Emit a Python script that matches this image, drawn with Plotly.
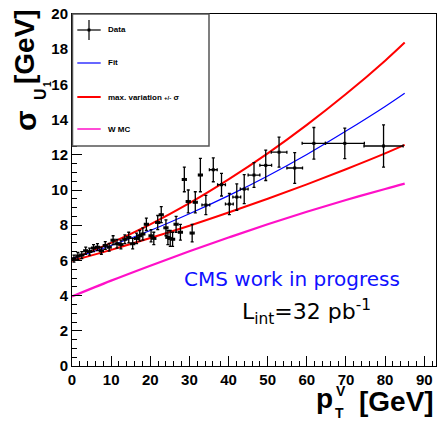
import plotly.graph_objects as go

# ---------------- data ----------------
data_x = [0.5, 1.5, 2.5, 3.5, 4.5, 5.5, 6.5, 7.5, 8.5, 9.5, 10.5, 11.5, 12.5, 13.5, 14.5,
          15.5, 16.5, 17.3, 18.1, 19.0, 20.2, 20.9, 21.9, 22.8, 24.0, 24.5, 25.1, 25.7,
          26.6, 27.7, 28.7, 29.7, 30.7, 31.5, 32.8, 34.2, 36.1, 38.2, 40.2, 42.1, 44.0,
          46.5, 49.5, 52.9, 56.9, 61.8, 69.7, 79.6]
data_y = [6.1, 6.25, 6.3, 6.55, 6.5, 6.7, 6.75, 6.55, 6.85, 6.75, 7.15, 6.95, 6.9, 7.2, 7.3,
          6.95, 7.25, 7.4, 7.5, 8.05, 7.4, 7.25, 8.15, 8.6, 7.85, 7.3, 7.25, 7.2,
          8.05, 7.6, 10.6, 9.35, 7.55, 9.3, 10.85, 9.15, 11.15, 10.3, 9.2, 9.6, 10.05,
          10.85, 11.4, 12.15, 11.25, 12.65, 12.65, 12.5]
data_yerr = [0.2, 0.2, 0.2, 0.2, 0.2, 0.2, 0.2, 0.2, 0.22, 0.22, 0.25, 0.25, 0.25, 0.25, 0.3,
             0.3, 0.3, 0.3, 0.35, 0.35, 0.35, 0.35, 0.4, 0.45, 0.45, 0.4, 0.45, 0.4,
             0.45, 0.45, 0.7, 0.65, 0.5, 0.6, 0.95, 0.55, 0.68, 0.64, 0.6, 0.75, 0.82,
             0.7, 0.86, 0.85, 0.87, 0.9, 0.87, 1.2]
data_xerr = [0.5] * 35 + [1.0] * 6 + [1.5, 1.5, 2.0, 2.0, 3.0, 5.0, 5.0]

curve_x = [0, 10, 20, 30, 40, 50, 60, 70, 80, 85]
fit_y = [6.1, 6.85, 7.7, 8.65, 9.68, 10.8, 12.02, 13.35, 14.75, 15.5]
var_up_y = [6.08, 7.0, 8.05, 9.25, 10.6, 12.08, 13.7, 15.45, 17.35, 18.38]
var_dn_y = [5.98, 6.6, 7.27, 7.97, 8.72, 9.5, 10.32, 11.18, 12.08, 12.56]
wmc_y = [3.95, 4.85, 5.7, 6.52, 7.3, 8.05, 8.76, 9.43, 10.06, 10.36]

x_ticks = [0, 10, 20, 30, 40, 50, 60, 70, 80, 90]
y_ticks = [0, 2, 4, 6, 8, 10, 12, 14, 16, 18, 20]

# ---------------- layout helpers ----------------
W, H = 437, 423
L, R, T, B = 72, 436, 14, 366


def px(x):
    return (x - L) / (R - L)


def py(y):
    return (B - y) / (B - T)


RED = "#ff0000"
BLUE = "#0000ff"
MAG = "#ff10c8"
FONT = "Liberation Sans"

fig = go.Figure()

fig.add_trace(go.Scatter(x=curve_x, y=wmc_y, mode="lines", line=dict(color=MAG, width=2.2, shape="spline"),
                         showlegend=False, hoverinfo="skip"))
fig.add_trace(go.Scatter(x=curve_x, y=var_dn_y, mode="lines", line=dict(color=RED, width=2, shape="spline"),
                         showlegend=False, hoverinfo="skip"))
fig.add_trace(go.Scatter(x=curve_x, y=var_up_y, mode="lines", line=dict(color=RED, width=2, shape="spline"),
                         showlegend=False, hoverinfo="skip"))
fig.add_trace(go.Scatter(x=curve_x, y=fit_y, mode="lines", line=dict(color=BLUE, width=1.2, shape="spline"),
                         showlegend=False, hoverinfo="skip"))
fig.add_trace(go.Scatter(
    x=data_x, y=data_y, mode="markers",
    marker=dict(symbol="square", size=3, color="black"),
    error_y=dict(type="data", array=data_yerr, color="black", thickness=1.3, width=1.5),
    error_x=dict(type="data", array=data_xerr, color="black", thickness=1.3, width=1.5),
    showlegend=False))

shapes = []
annotations = []

# legend box
shapes.append(dict(type="rect", xref="paper", yref="paper", x0=px(72.5), x1=px(209), y0=py(146), y1=py(14),
                   line=dict(color="#555555", width=1.5), fillcolor="white", layer="above"))
# legend samples
lx0, lx1 = 77.3, 100.7
shapes.append(dict(type="line", xref="paper", yref="paper", x0=px(lx0), x1=px(lx1), y0=py(30), y1=py(30),
                   line=dict(color="black", width=1.2)))
shapes.append(dict(type="line", xref="paper", yref="paper", x0=px(89), x1=px(89), y0=py(20), y1=py(40),
                   line=dict(color="black", width=1.2)))
shapes.append(dict(type="rect", xref="paper", yref="paper", x0=px(87.8), x1=px(90.2), y0=py(31.2), y1=py(28.8),
                   line=dict(color="black", width=0.5), fillcolor="black"))
shapes.append(dict(type="line", xref="paper", yref="paper", x0=px(lx0), x1=px(lx1), y0=py(63), y1=py(63),
                   line=dict(color=BLUE, width=1.2)))
shapes.append(dict(type="line", xref="paper", yref="paper", x0=px(lx0), x1=px(lx1), y0=py(97), y1=py(97),
                   line=dict(color=RED, width=2)))
shapes.append(dict(type="line", xref="paper", yref="paper", x0=px(lx0), x1=px(lx1), y0=py(129), y1=py(129),
                   line=dict(color=MAG, width=1.5)))

for txt, yy in [("Data", 30), ("Fit", 63), ("max. variation <span style='font-size:6px'>+/-</span> σ", 97),
                ("W MC", 129)]:
    annotations.append(dict(xref="paper", yref="paper", x=px(105.5), y=py(yy), xanchor="left", yanchor="middle",
                            text=txt, showarrow=False,
                            font=dict(family=FONT, size=8, color="black", weight="bold")))

# CMS text
annotations.append(dict(xref="paper", yref="paper", x=px(292), y=py(279), xanchor="center", yanchor="middle",
                        text="CMS work in progress", showarrow=False,
                        font=dict(family="DejaVu Sans", size=20, color="#1010ff")))
annotations.append(dict(xref="paper", yref="paper", x=px(240), y=py(312), xanchor="left", yanchor="middle",
                        text="L<sub>int</sub>=32 pb<sup>-1</sup>", showarrow=False,
                        font=dict(family="DejaVu Sans", size=22, color="black")))

# x title
bold = dict(family=FONT, color="black", weight="bold")
annotations.append(dict(xref="paper", yref="paper", x=px(324), y=py(398), xanchor="center", yanchor="middle",
                        text="p", showarrow=False, font=dict(size=28, **bold)))
annotations.append(dict(xref="paper", yref="paper", x=px(340.5), y=py(391), xanchor="center", yanchor="middle",
                        text="V", showarrow=False, font=dict(size=14, **bold)))
annotations.append(dict(xref="paper", yref="paper", x=px(339.5), y=py(413), xanchor="center", yanchor="middle",
                        text="T", showarrow=False, font=dict(size=14, **bold)))
annotations.append(dict(xref="paper", yref="paper", x=px(396), y=py(401), xanchor="center", yanchor="middle",
                        text="[GeV]", showarrow=False, font=dict(size=28, **bold)))

# y title (rotated)
annotations.append(dict(xref="paper", yref="paper", x=px(25), y=py(120), xanchor="center", yanchor="middle",
                        text="σ", showarrow=False, textangle=-90, font=dict(size=30, **bold)))
annotations.append(dict(xref="paper", yref="paper", x=px(40), y=py(94), xanchor="center", yanchor="middle",
                        text="U", showarrow=False, textangle=-90, font=dict(size=16, **bold)))
annotations.append(dict(xref="paper", yref="paper", x=px(47), y=py(84), xanchor="center", yanchor="middle",
                        text="1", showarrow=False, textangle=-90, font=dict(size=10, **bold)))
annotations.append(dict(xref="paper", yref="paper", x=px(24), y=py(47), xanchor="center", yanchor="middle",
                        text="[GeV]", showarrow=False, textangle=-90, font=dict(size=28, **bold)))

tickfont = dict(family=FONT, size=15, color="black", weight="bold")

fig.update_layout(
    width=W, height=H,
    margin=dict(l=L, r=W - R, t=T, b=H - B),
    paper_bgcolor="white", plot_bgcolor="white",
    shapes=shapes, annotations=annotations,
    showlegend=False,
    xaxis=dict(range=[0, 93], tickvals=x_ticks, ticktext=[str(v) for v in x_ticks],
               ticks="inside", ticklen=10, tickwidth=1, tickcolor="black",
               minor=dict(ticks="inside", ticklen=5, dtick=2, tick0=0, tickcolor="black", tickwidth=1),
               showline=True, linecolor="black", linewidth=1, mirror=True,
               showgrid=False, zeroline=False, tickfont=tickfont),
    yaxis=dict(range=[0, 20], tickvals=y_ticks, ticktext=[str(v) for v in y_ticks],
               ticks="inside", ticklen=10, tickwidth=1, tickcolor="black",
               minor=dict(ticks="inside", ticklen=5, dtick=0.5, tick0=0, tickcolor="black", tickwidth=1),
               showline=True, linecolor="black", linewidth=1, mirror=True,
               showgrid=False, zeroline=False, tickfont=tickfont),
)

fig.write_html("out.html")
